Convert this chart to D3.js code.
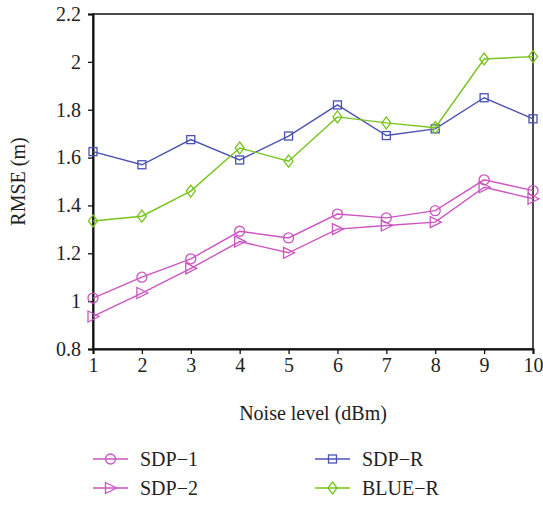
<!DOCTYPE html>
<html>
<head>
<meta charset="utf-8">
<script src="https://cdn.jsdelivr.net/npm/d3@7"></script>
<style>
  body { margin: 0; background: #fff; }
  text { font-family: "Liberation Serif", "DejaVu Serif", serif; fill: #222; }
</style>
</head>
<body>
<div id="chart"></div>
<script>
const width = 543;
const height = 505;
const margin = { top: 14, right: 10, bottom: 156, left: 93 };

// data
const noiseLevels = [1, 2, 3, 4, 5, 6, 7, 8, 9, 10];
const sdp1 = [1.013, 1.10, 1.177, 1.292, 1.264, 1.364, 1.348, 1.378, 1.507, 1.462];
const sdp2 = [0.936, 1.034, 1.137, 1.249, 1.202, 1.301, 1.316, 1.33, 1.476, 1.428];
const sdpR = [1.625, 1.57, 1.675, 1.59, 1.69, 1.82, 1.692, 1.72, 1.85, 1.762];
const blueR = [1.335, 1.355, 1.46, 1.64, 1.585, 1.77, 1.745, 1.725, 2.012, 2.022];
const yTicks = [0.8, 1, 1.2, 1.4, 1.6, 1.8, 2, 2.2];

const series = [
    { name: 'SDP\u22121', values: sdp1, colour: '#cc55c0', marker: 'circle' },
    { name: 'SDP\u22122', values: sdp2, colour: '#cc55c0', marker: 'triangle' },
    { name: 'SDP\u2212R', values: sdpR, colour: '#4a52b4', marker: 'square' },
    { name: 'BLUE\u2212R', values: blueR, colour: '#77c41c', marker: 'diamond' }
];

const fontSize = '20px';

const svg = d3.select('#chart').append('svg')
    .attr('width', width)
    .attr('height', height);

const x = d3.scaleLinear()
    .domain([1, 10])
    .range([margin.left, width - margin.right]);

const y = d3.scaleLinear()
    .domain([0.8, 2.2])
    .range([height - margin.bottom, margin.top]);

// frame
svg.append('rect')
    .attr('x', x(1))
    .attr('y', y(2.2))
    .attr('width', x(10) - x(1))
    .attr('height', y(0.8) - y(2.2))
    .attr('fill', 'none')
    .attr('stroke', '#111')
    .attr('stroke-width', 1.5);

const xAxis = d3.axisBottom(x)
    .tickValues(noiseLevels)
    .tickSize(5)
    .tickPadding(4)
    .tickFormat(d3.format('d'));

const yAxis = d3.axisLeft(y)
    .tickValues(yTicks)
    .tickSize(5)
    .tickPadding(7)
    .tickFormat(d => d3.format('')(+d.toFixed(1)));

svg.append('g')
    .attr('transform', `translate(0, ${y(0.8)})`)
    .call(xAxis)
    .call(g => g.select('.domain').attr('stroke', '#111').attr('stroke-width', 2))
    .call(g => g.selectAll('.tick line').attr('stroke', '#111').attr('stroke-width', 1.3))
    .call(g => g.selectAll('.tick text').style('font-size', fontSize).attr('fill', '#222'));

svg.append('g')
    .attr('transform', `translate(${x(1)}, 0)`)
    .call(yAxis)
    .call(g => g.select('.domain').attr('stroke', '#111').attr('stroke-width', 2))
    .call(g => g.selectAll('.tick line').attr('stroke', '#111').attr('stroke-width', 1.3))
    .call(g => g.selectAll('.tick text').style('font-size', fontSize).attr('fill', '#222'));

svg.append('text')
    .attr('x', (x(1) + x(10)) / 2)
    .attr('y', 420)
    .attr('text-anchor', 'middle')
    .style('font-size', fontSize)
    .text('Noise level (dBm)');

svg.append('text')
    .attr('transform', `translate(25, ${(y(0.8) + y(2.2)) / 2}) rotate(-90)`)
    .attr('text-anchor', 'middle')
    .style('font-size', fontSize)
    .text('RMSE (m)');

// marker drawing
const drawMarker = function (g, type, colour) {
    if (type === 'circle') {
        g.append('circle').attr('r', 5);
    } else if (type === 'square') {
        g.append('rect').attr('x', -4).attr('y', -4).attr('width', 8).attr('height', 8);
    } else if (type === 'triangle') {
        g.append('path').attr('d', 'M-5,-5.5L6,0L-5,5.5Z');
    } else {
        g.append('path').attr('d', 'M0,-6L4.5,0L0,6L-4.5,0Z');
    }
    g.selectAll('*')
        .attr('fill', 'none')
        .attr('stroke', colour)
        .attr('stroke-width', 1.3);
};

const line = d3.line()
    .x((d, i) => x(noiseLevels[i]))
    .y(d => y(d));

series.forEach(s => {
    svg.append('path')
        .datum(s.values)
        .attr('fill', 'none')
        .attr('stroke', s.colour)
        .attr('stroke-width', 1.4)
        .attr('d', line);

    s.values.forEach((v, i) => {
        const g = svg.append('g')
            .attr('transform', `translate(${x(noiseLevels[i])}, ${y(v)})`);
        drawMarker(g, s.marker, s.colour);
    });
});

// legend
const legendPos = [
    { lx: 93, ly: 459 },
    { lx: 93, ly: 488 },
    { lx: 315, ly: 459 },
    { lx: 315, ly: 488 }
];

series.forEach((s, i) => {
    const p = legendPos[i];
    const lg = svg.append('g').attr('transform', `translate(${p.lx}, ${p.ly})`);
    lg.append('line')
        .attr('x1', 0).attr('x2', 35)
        .attr('stroke', s.colour)
        .attr('stroke-width', 1.4);
    drawMarker(lg.append('g').attr('transform', 'translate(17.5, 0)'), s.marker, s.colour);
    lg.append('text')
        .attr('x', 47)
        .attr('y', 7)
        .style('font-size', fontSize)
        .text(s.name);
});
</script>
</body>
</html>
